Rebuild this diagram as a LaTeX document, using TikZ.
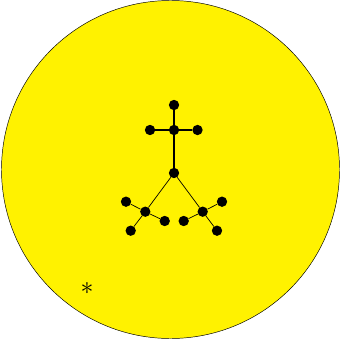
\documentclass[tikz,border=0pt]{standalone}
\usepackage{tikz}
\usetikzlibrary{positioning}

\begin{document}
\begin{tikzpicture}[x=0.03cm,y=-0.03cm,
    dot/.style={circle,fill=black,inner sep=0pt,minimum size=0.31cm},
    stem/.style={black,line width=1pt},
    twig/.style={black,line width=0.6pt}]

        \useasboundingbox (0,0) rectangle (341,339);
        \draw[black,thin,fill=yellow] (170.5,169.5) circle [radius=169*0.03cm];

        % upper cross
        \node[dot] (top) at (174,105) {};
        \node[dot] (mid) at (174,130) {};
        \node[dot] (ml) at (150,130) {};
        \node[dot] (mr) at (197.5,130) {};
        \node[dot] (fork) at (174,173) {};

        % lower branches
        \node[dot] (lc) at (145.3,211.7) {};
        \node[dot] (lo) at (126,201.7) {};
        \node[dot] (ld) at (130.7,230.7) {};
        \node[dot] (li) at (164.7,221) {};
        \node[dot] (rc) at (202.7,211.7) {};
        \node[dot] (ro) at (222,201.7) {};
        \node[dot] (rd) at (217,230.7) {};
        \node[dot] (ri) at (183.7,221) {};

        \draw[stem] (top) -- (mid);
        \draw[stem] (ml) -- (mr);
        \draw[stem] (mid) -- (fork);
        \draw[twig] (fork) -- (lc);
        \draw[twig] (fork) -- (rc);
        \draw[twig] (lo) -- (lc) -- (li);
        \draw[twig] (lc) -- (ld);
        \draw[twig] (ro) -- (rc) -- (ri);
        \draw[twig] (rc) -- (rd);

        \node[scale=2.2] (star) at (87,288) {$\ast$};

\end{tikzpicture}
\end{document}
